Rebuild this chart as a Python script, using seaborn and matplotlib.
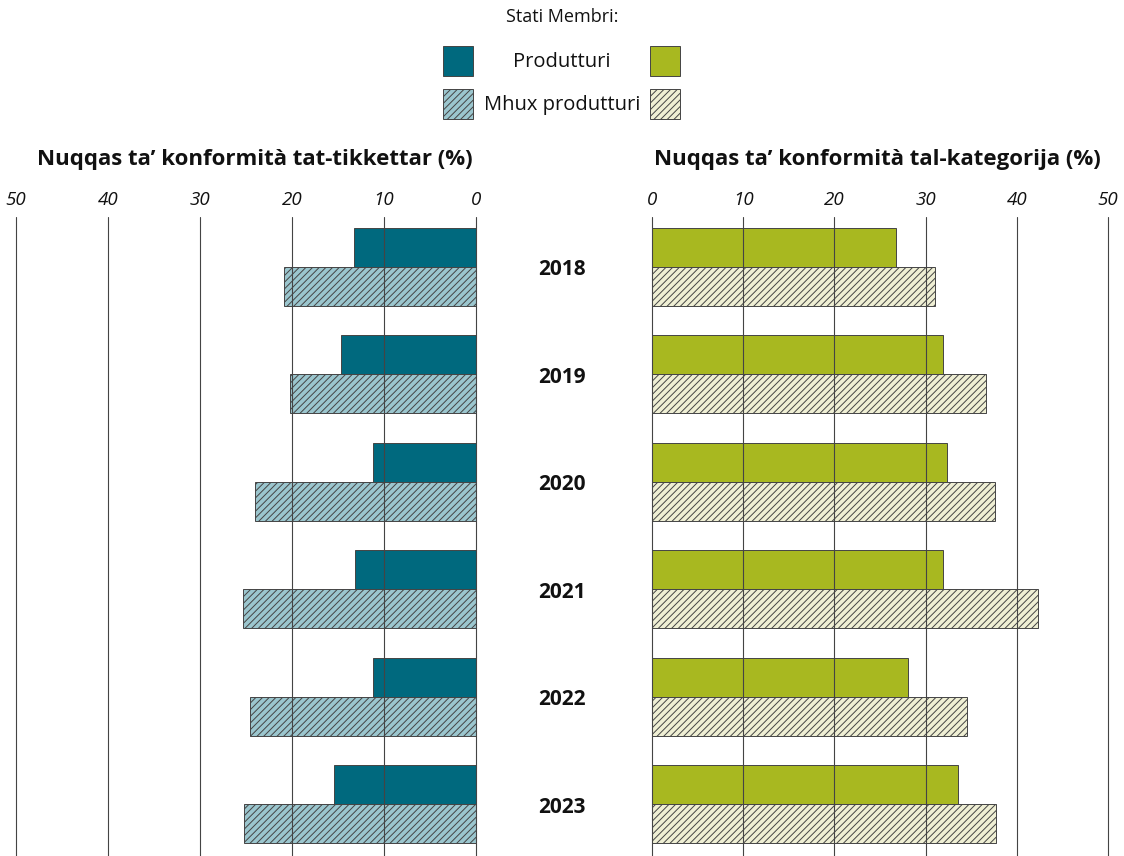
import matplotlib
matplotlib.use("Agg")
import matplotlib.pyplot as plt
from matplotlib.patches import Rectangle
import seaborn as sns
import pandas as pd

years = ["2018", "2019", "2020", "2021", "2022", "2023"]
groups = ["Produtturi", "Mhux produtturi"]
label_prod = [13.3, 14.7, 11.2, 13.2, 11.2, 15.4]
label_nonprod = [20.9, 20.2, 24.0, 25.3, 24.6, 25.2]
cat_prod = [26.7, 31.9, 32.4, 31.9, 28.1, 33.6]
cat_nonprod = [31.0, 36.6, 37.6, 42.3, 34.5, 37.7]
ticks = [0, 10, 20, 30, 40, 50]
title_left = "Nuqqas ta\u2019 konformit\u00e0 tat-tikkettar (%)"
title_right = "Nuqqas ta\u2019 konformit\u00e0 tal-kategorija (%)"
legend_title = "Stati Membri:"

sns.set_theme(style="white")
plt.rcParams["font.family"] = ["Open Sans", "DejaVu Sans"]
plt.rcParams["hatch.linewidth"] = 0.7

W, H = 1124, 856
fig = plt.figure(figsize=(W / 100, H / 100), dpi=100)

def make_df(a, b):
    return pd.DataFrame({
        "year": years * 2,
        "value": a + b,
        "group": [groups[0]] * len(years) + [groups[1]] * len(years),
    })

def draw(ax, df, colors, inverted):
    sns.barplot(data=df, y="year", x="value", hue="group", order=years,
                hue_order=groups, orient="h", palette=colors, width=0.726,
                edgecolor="#444444", linewidth=0.7, legend=False, ax=ax,
                saturation=1)
    for p in ax.containers[1]:
        p.set_hatch("/////")
    ax.set_ylim(5.484, -0.465)
    if inverted:
        ax.set_xlim(50, 0)
    else:
        ax.set_xlim(0, 50)
    ax.set_xticks(ticks)
    ax.set_xticklabels([str(t) for t in ticks], fontsize=13.5, style="italic")
    ax.xaxis.tick_top()
    ax.tick_params(axis="x", length=0, pad=6, colors="#111111")
    ax.set_yticks([])
    ax.set_xlabel("")
    ax.set_ylabel("")
    for s in ax.spines.values():
        s.set_visible(False)
    ax.set_axisbelow(False)
    ax.grid(axis="x", color="#444444", linewidth=0.8)
    ax.grid(axis="y", visible=False)
    for gl in ax.get_xgridlines():
        gl.set_clip_on(False)

top = (H - 217) / H
axL = fig.add_axes([16 / W, 0, 460 / W, top])
axR = fig.add_axes([652 / W, 0, 456 / W, top])
draw(axL, make_df(label_prod, label_nonprod), ["#00697E", "#9BC6CE"], True)
draw(axR, make_df(cat_prod, cat_nonprod), ["#A8B820", "#EFEFD4"], False)

# Year labels in the middle
for i, y in enumerate(years):
    yd = axL.transData.transform((0, i))[1]
    fig.text(562 / W, yd / H - 3 / H, y, ha="center", va="center",
             fontsize=15, fontweight="bold", color="#111111")

fig.text(255 / W, 1 - 160 / H, title_left, ha="center", va="center",
         fontsize=16, fontweight="bold", color="#111111")
fig.text(877 / W, 1 - 160 / H, title_right, ha="center", va="center",
         fontsize=16, fontweight="bold", color="#111111")

# Legend
fig.text(562 / W, 1 - 17 / H, legend_title, ha="center", va="center",
         fontsize=13, color="#111111")
fig.text(562 / W, 1 - 62 / H, groups[0], ha="center", va="center",
         fontsize=14.5, color="#111111")
fig.text(562 / W, 1 - 105 / H, groups[1], ha="center", va="center",
         fontsize=14.5, color="#111111")
for x0, y0, c, h in [(443, 46, "#00697E", None), (650, 46, "#A8B820", None),
                     (443, 89, "#9BC6CE", "/////"), (650, 89, "#EFEFD4", "/////")]:
    r = Rectangle((x0 / W, 1 - (y0 + 30) / H), 30 / W, 30 / H,
                  transform=fig.transFigure, facecolor=c,
                  edgecolor="#444444", linewidth=0.7, hatch=h)
    fig.add_artist(r)

fig.savefig("out.png", dpi=100)
